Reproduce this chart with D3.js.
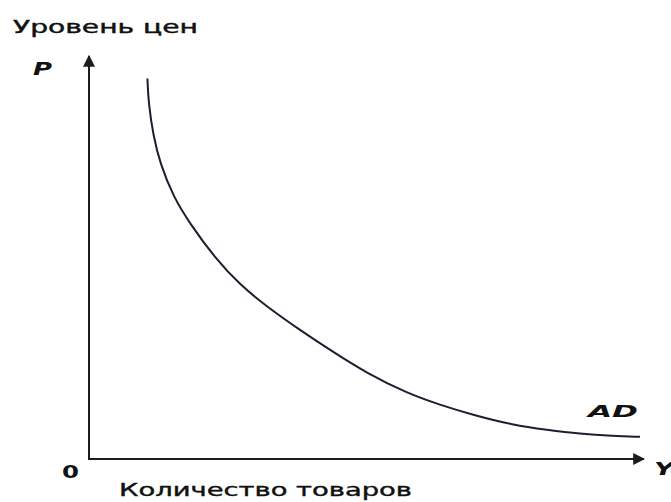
<!DOCTYPE html>
<html>
<head>
<meta charset="utf-8">
<script src="https://cdn.jsdelivr.net/npm/d3@7"></script>
<style>
  html, body { margin: 0; padding: 0; background: #fff; }
  svg { display: block; }
</style>
</head>
<body>
<svg id="chart" width="671" height="502"></svg>
<script>
// AD curve (quantity Y vs price level P, 0..100 units)
const adQ = [10.6, 10.8, 11.7, 12.9, 15.3, 18.3, 22.9, 27.4, 32.3, 38.3, 44.3, 50.1, 57.7, 63.7, 69.7, 77.0, 83.1, 89.1, 95.1, 100];
const adP = [94.2, 88.0, 79.8, 73.2, 64.9, 58.3, 49.7, 43.1, 37.7, 31.9, 26.5, 21.5, 16.3, 13.4, 10.9, 8.4, 7.2, 6.2, 5.7, 5.5];

const titleY = "Уровень цен";
const titleX = "Количество товаров";
const curveLabel = "AD";

const svg = d3.select("#chart");

const x = d3.scaleLinear().domain([0, 100]).range([89, 640]);
const y = d3.scaleLinear().domain([0, 100]).range([459, 55]);

const axisColor = "#1c1c1c";

// arrowheads
svg.append("defs").append("marker")
  .attr("id", "arrow")
  .attr("viewBox", "0 0 10 10")
  .attr("refX", 9).attr("refY", 5)
  .attr("markerWidth", 6).attr("markerHeight", 6)
  .attr("markerUnits", "strokeWidth")
  .attr("orient", "auto")
  .append("path")
  .attr("d", "M0,0 L10,5 L0,10 Z")
  .attr("fill", axisColor);

// axes
svg.append("line")
  .attr("x1", x(0)).attr("y1", y(0))
  .attr("x2", x(0)).attr("y2", y(100) + 1)
  .attr("stroke", axisColor).attr("stroke-width", 2)
  .attr("marker-end", "url(#arrow)");

svg.append("line")
  .attr("x1", x(0) - 1).attr("y1", y(0))
  .attr("x2", x(100) + 4).attr("y2", y(0))
  .attr("stroke", axisColor).attr("stroke-width", 2)
  .attr("marker-end", "url(#arrow)");

// AD curve
const pts = adQ.map((q, i) => [q, adP[i]]);
const line = d3.line()
  .x(d => x(d[0]))
  .y(d => y(d[1]))
  .curve(d3.curveBasis);

svg.append("path")
  .datum(pts)
  .attr("d", line)
  .attr("fill", "none")
  .attr("stroke", "#1b2030")
  .attr("stroke-width", 2);

// texts
const font = "Verdana, 'DejaVu Sans', sans-serif";

svg.append("text")
  .attr("x", 13).attr("y", 33)
  .attr("font-family", font).attr("font-size", 17)
  .attr("textLength", 185).attr("lengthAdjust", "spacingAndGlyphs")
  .attr("fill", "#111").attr("stroke", "#111").attr("stroke-width", 0.4)
  .text(titleY);

svg.append("text")
  .attr("x", 33).attr("y", 75)
  .attr("font-family", font).attr("font-size", 17)
  .attr("font-weight", "bold").attr("font-style", "italic")
  .attr("textLength", 19).attr("lengthAdjust", "spacingAndGlyphs")
  .attr("fill", "#111")
  .text("P");

svg.append("text")
  .attr("x", 62).attr("y", 478)
  .attr("font-family", font).attr("font-size", 17)
  .attr("font-weight", "bold")
  .attr("textLength", 17).attr("lengthAdjust", "spacingAndGlyphs")
  .attr("fill", "#111")
  .text("0");

svg.append("text")
  .attr("x", 654).attr("y", 475)
  .attr("font-family", font).attr("font-size", 17)
  .attr("font-weight", "bold").attr("font-style", "italic")
  .attr("textLength", 20).attr("lengthAdjust", "spacingAndGlyphs")
  .attr("fill", "#111")
  .text("Y");

svg.append("text")
  .attr("x", 119).attr("y", 496)
  .attr("font-family", font).attr("font-size", 18)
  .attr("textLength", 293).attr("lengthAdjust", "spacingAndGlyphs")
  .attr("fill", "#111").attr("stroke", "#111").attr("stroke-width", 0.4)
  .text(titleX);

svg.append("text")
  .attr("x", 588).attr("y", 417)
  .attr("font-family", font).attr("font-size", 15)
  .attr("font-weight", "bold").attr("font-style", "italic")
  .attr("textLength", 50).attr("lengthAdjust", "spacingAndGlyphs")
  .attr("fill", "#111")
  .text(curveLabel);
</script>
</body>
</html>
